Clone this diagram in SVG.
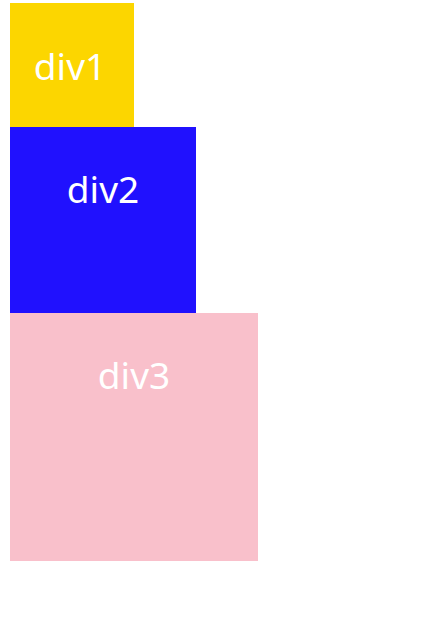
<svg xmlns="http://www.w3.org/2000/svg" width="443" height="627" viewBox="0 0 443 627">
<style>
.lbl{font-family:"Noto Sans","Open Sans","DejaVu Sans",sans-serif;font-size:37px;fill:#ffffff;text-anchor:middle}
</style>
<rect width="443" height="627" fill="#ffffff"/>
<g id="div1"><rect x="10" y="3" width="124" height="124" fill="#fcd600"/><text class="lbl" x="70" y="80">div1</text></g>
<g id="div2"><rect x="10" y="127" width="186" height="186" fill="#2011fe"/><text class="lbl" x="103" y="203">div2</text></g>
<g id="div3"><rect x="10" y="313" width="248" height="248" fill="#f9c0cb"/><text class="lbl" x="134" y="389">div3</text></g>
<g id="connectors"/>
</svg>
